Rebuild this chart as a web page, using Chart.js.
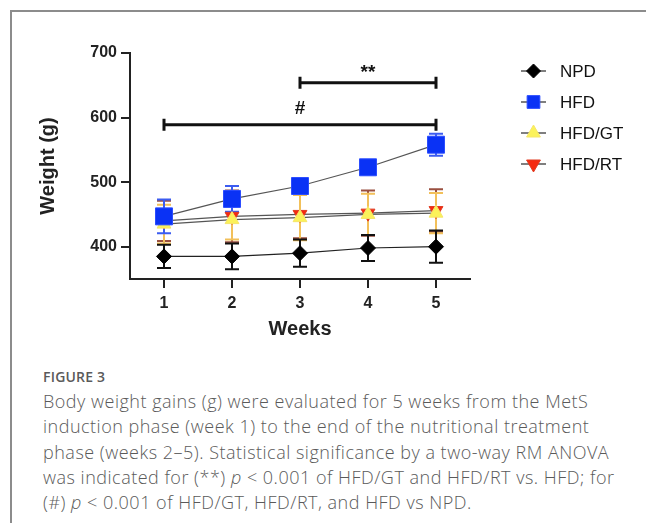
<!DOCTYPE html>
<html>
<head>
<meta charset="utf-8">
<title>Figure 3</title>
<script src="https://cdn.jsdelivr.net/npm/chart.js@4.4.1/dist/chart.umd.min.js"></script>
<style>
    body { margin: 0; background: #fff; width: 646px; height: 523px; overflow: hidden; position: relative; }
    .frame { position: absolute; left: 10px; top: 10px; width: 700px; height: 600px;
             border-left: 2px solid #8c8c8c; border-top: 2px solid #8c8c8c; }
    #chartBox { position: absolute; left: 0; top: 0; width: 646px; height: 350px; }
    .caption { position: absolute; left: 43px; top: 368px; width: 600px;
               font-family: "Open Sans", sans-serif; color: #5a5a5a; }
    .caption .fig { font-size: 14px; font-weight: 600; letter-spacing: 0.2px; line-height: 18px; margin-bottom: 3px; }
    .caption .txt { font-size: 18px; font-weight: 300; letter-spacing: 0.5px; line-height: 25.3px; white-space: nowrap; }
</style>
</head>
<body>
<div class="frame"></div>
<div id="chartBox"><canvas id="weightChart" width="646" height="350"></canvas></div>
<div class="caption">
    <div class="fig">FIGURE 3</div>
    <div class="txt">Body weight gains (g) were evaluated for 5 weeks from the MetS<br>
    induction phase (week 1) to the end of the nutritional treatment<br>
    phase (weeks 2–5). Statistical significance by a two-way RM ANOVA<br>
    was indicated for (**) <i>p</i> &lt; 0.001 of HFD/GT and HFD/RT vs. HFD; for<br>
    (#) <i>p</i> &lt; 0.001 of HFD/GT, HFD/RT, and HFD vs NPD.</div>
</div>

<script>
// Data
const weeks = ['1', '2', '3', '4', '5'];
const yTicks = [400, 500, 600, 700];

const npdMean = [385, 385, 390, 398, 400];
const npdSd   = [18, 20, 21, 20, 25];
const hfdMean = [447, 474, 494, 523, 558];
const hfdSd   = [26, 20, 8, 5, 17];
const gtMean  = [435, 442, 445, 450, 452];
const gtSd    = [30, 31, 35, 32, 31];
const rtMean  = [440, 447, 450, 452, 456];
const rtSd    = [31, 40, 37, 35, 33];

// significance brackets
const bracketFrom = ['1', '3'];
const bracketTo   = ['5', '5'];
const bracketY    = [589, 654];
const bracketText = ['#', '**'];

const boldFont = '"Liberation Sans", Arial, sans-serif';

function series(label, data, sd, style, rotation, radius, fill, edge, errColor, lineColor) {
    return {
        label: label,
        data: data,
        sd: sd,
        errColor: errColor,
        borderColor: lineColor,
        borderWidth: 1.2,
        pointStyle: style,
        rotation: rotation,
        pointRadius: radius,
        pointHoverRadius: radius,
        pointBackgroundColor: fill,
        pointBorderColor: edge,
        pointBorderWidth: 1,
        tension: 0
    };
}

// Error bars drawn under the markers
const errorBars = {
    id: 'errorBars',
    beforeDatasetsDraw(chart) {
        const ctx = chart.ctx;
        const x = chart.scales.x, y = chart.scales.y;
        ctx.save();
        for (let i = chart.data.datasets.length - 1; i >= 0; i--) {
            const ds = chart.data.datasets[i];
            ctx.strokeStyle = ds.errColor;
            ctx.lineWidth = 2;
            ds.data.forEach((v, j) => {
                const px = x.getPixelForValue(j);
                const top = y.getPixelForValue(v + ds.sd[j]);
                const bot = y.getPixelForValue(v - ds.sd[j]);
                ctx.beginPath();
                ctx.moveTo(px, top); ctx.lineTo(px, bot);
                ctx.moveTo(px - 7, top); ctx.lineTo(px + 7, top);
                ctx.moveTo(px - 7, bot); ctx.lineTo(px + 7, bot);
                ctx.stroke();
            });
        }
        ctx.restore();
    }
};

// Significance brackets with labels
const brackets = {
    id: 'brackets',
    afterDatasetsDraw(chart) {
        const ctx = chart.ctx;
        const x = chart.scales.x, y = chart.scales.y;
        ctx.save();
        ctx.strokeStyle = '#111';
        ctx.fillStyle = '#111';
        ctx.lineWidth = 3;
        ctx.font = 'bold 19px ' + boldFont;
        ctx.textAlign = 'center';
        ctx.textBaseline = 'middle';
        bracketY.forEach((val, i) => {
            const x0 = x.getPixelForValue(weeks.indexOf(bracketFrom[i]));
            const x1 = x.getPixelForValue(weeks.indexOf(bracketTo[i]));
            const py = y.getPixelForValue(val);
            ctx.beginPath();
            ctx.moveTo(x0, py); ctx.lineTo(x1, py);
            ctx.moveTo(x0, py - 6); ctx.lineTo(x0, py + 6);
            ctx.moveTo(x1, py - 6); ctx.lineTo(x1, py + 6);
            ctx.stroke();
            const lbl = bracketText[i];
            const off = lbl === '#' ? 16 : 10;
            ctx.fillText(lbl, (x0 + x1) / 2, py - off);
        });
        ctx.restore();
    }
};

// Legend on the right: line with marker, then label
const sideLegend = {
    id: 'sideLegend',
    afterDraw(chart) {
        const ctx = chart.ctx;
        const left = chart.chartArea.right + 51;
        const sizes = [7, 9, 8, 8];
        ctx.save();
        chart.data.datasets.forEach((ds, i) => {
            const cy = 71 + i * 31;
            ctx.strokeStyle = '#555';
            ctx.lineWidth = 1.5;
            ctx.beginPath();
            ctx.moveTo(left, cy); ctx.lineTo(left + 25, cy);
            ctx.stroke();
            ctx.fillStyle = ds.pointBackgroundColor;
            ctx.strokeStyle = ds.pointBorderColor;
            ctx.lineWidth = 1;
            Chart.helpers.drawPoint(ctx, {
                pointStyle: ds.pointStyle, rotation: ds.rotation,
                radius: sizes[i], borderWidth: 1
            }, left + 12.5, cy);
            ctx.fillStyle = '#111';
            ctx.font = '17px ' + boldFont;
            ctx.textAlign = 'left';
            ctx.textBaseline = 'middle';
            ctx.fillText(ds.label, left + 39, cy + 1);
        });
        ctx.restore();
    }
};

new Chart(document.getElementById('weightChart'), {
    type: 'line',
    data: {
        labels: weeks,
        datasets: [
            series('NPD', npdMean, npdSd, 'rectRot', 0, 7.5, '#000', '#000', '#111', '#222'),
            series('HFD', hfdMean, hfdSd, 'rect', 0, 12, '#0a32f5', '#2a4cff', '#3c5cf0', '#555'),
            series('HFD/GT', gtMean, gtSd, 'triangle', 0, 8, '#fbf25a', '#f5e66a', '#f2c05a', '#555'),
            series('HFD/RT', rtMean, rtSd, 'triangle', 180, 8, '#f52a10', '#e03a20', '#9a5040', '#555')
        ]
    },
    options: {
        responsive: false,
        animation: false,
        events: [],
        layout: { padding: { left: 0, right: 176, top: 53, bottom: 0 } },
        plugins: { legend: { display: false }, tooltip: { enabled: false } },
        scales: {
            x: {
                type: 'category',
                offset: true,
                grid: { drawOnChartArea: false, drawTicks: true, tickLength: 9, color: '#222', lineWidth: 2 },
                border: { display: true, color: '#222', width: 2 },
                ticks: { color: '#222', padding: 6, font: { family: boldFont, size: 16, weight: 'bold' } },
                title: { display: true, text: 'Weeks', color: '#222', padding: { bottom: 9, top: 0 },
                         font: { family: boldFont, size: 20, weight: 'bold' } },
                afterFit(scale) { scale.height = 71; }
            },
            y: {
                min: 350,
                max: 700,
                afterBuildTicks(scale) { scale.ticks = yTicks.map(v => ({ value: v })); },
                grid: { drawOnChartArea: false, drawTicks: true, tickLength: 9, color: '#222', lineWidth: 2 },
                border: { display: true, color: '#222', width: 2 },
                ticks: { color: '#222', padding: 4, font: { family: boldFont, size: 16, weight: 'bold' } },
                title: { display: true, text: 'Weight (g)', color: '#222', padding: { top: 36, bottom: 0 },
                         font: { family: boldFont, size: 20, weight: 'bold' } },
                afterFit(scale) { scale.width = 130; }
            }
        }
    },
    plugins: [errorBars, brackets, sideLegend]
});
</script>
</body>
</html>
